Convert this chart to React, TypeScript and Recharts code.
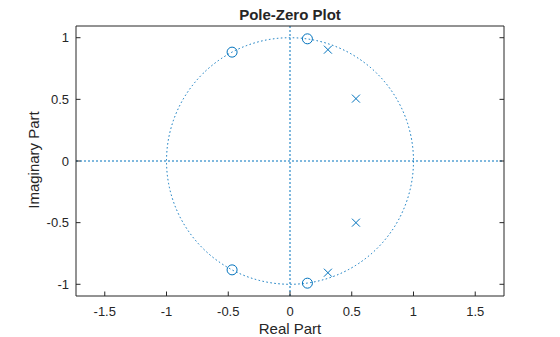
import { ScatterChart, Scatter, XAxis, YAxis, ReferenceLine, ReferenceArea } from 'recharts'

// zeros (o) and poles (x)
const zeroRe = [0.141, -0.469, -0.469, 0.141]
const zeroIm = [0.991, 0.883, -0.883, -0.991]
const poleRe = [0.307, 0.534, 0.534, 0.307]
const poleIm = [0.903, 0.506, -0.5, -0.906]

const xTicks = [-1.5, -1, -0.5, 0, 0.5, 1, 1.5]
const yTicks = [-1, -0.5, 0, 0.5, 1]
const xDomain = [-1.733, 1.733]
const yDomain = [-1.095, 1.095]

const zeros = zeroRe.map((re, i) => ({ re, im: zeroIm[i] }))
const poles = poleRe.map((re, i) => ({ re, im: poleIm[i] }))

const blue = '#0072BD'
const ink = '#262626'
const font = '"Liberation Sans", Arial, Helvetica, sans-serif'
const TICK = 4.5

const BottomTick = (p: any) => (
  <g>
    <line x1={p.x} x2={p.x} y1={p.y} y2={p.y - TICK} stroke={ink} />
    <text x={p.x} y={p.y + 20} textAnchor="middle" fontSize={13} fill={ink} fontFamily={font}>
      {p.payload.value}
    </text>
  </g>
)
const TopTick = (p: any) => <line x1={p.x} x2={p.x} y1={p.y} y2={p.y + TICK} stroke={ink} />
const LeftTick = (p: any) => (
  <g>
    <line x1={p.x} x2={p.x + TICK} y1={p.y} y2={p.y} stroke={ink} />
    <text x={p.x - 7} y={p.y + 4.5} textAnchor="end" fontSize={13} fill={ink} fontFamily={font}>
      {p.payload.value}
    </text>
  </g>
)
const RightTick = (p: any) => <line x1={p.x} x2={p.x - TICK} y1={p.y} y2={p.y} stroke={ink} />

const ZeroMark = (p: any) => <circle cx={p.cx} cy={p.cy} r={5} fill="none" stroke={blue} strokeWidth={1} />
const PoleMark = (p: any) => (
  <g stroke={blue} strokeWidth={1}>
    <line x1={p.cx - 4} y1={p.cy - 4} x2={p.cx + 4} y2={p.cy + 4} />
    <line x1={p.cx - 4} y1={p.cy + 4} x2={p.cx + 4} y2={p.cy - 4} />
  </g>
)

// unit circle inscribed in the [-1,1]x[-1,1] area
const UnitCircle = (p: any) => (
  <ellipse cx={p.x + p.width / 2} cy={p.y + p.height / 2} rx={p.width / 2} ry={p.height / 2}
           fill="none" stroke={blue} strokeWidth={1} strokeDasharray="1.5 2.5" />
)

export default function App() {
  return (
    <div style={{ position: 'absolute', left: 0, top: 0, width: 560, height: 337, background: '#fff' }}>
      <ScatterChart width={560} height={337} margin={{ top: 25, right: 55, bottom: 0, left: 0 }}>
        <XAxis xAxisId={0} type="number" dataKey="re" domain={xDomain} allowDataOverflow ticks={xTicks}
               height={41} tickSize={0} tickMargin={0} tickLine={false} tick={BottomTick}
               axisLine={{ stroke: ink }} interval={0} />
        <XAxis xAxisId="top" orientation="top" type="number" domain={xDomain} allowDataOverflow ticks={xTicks}
               height={1} tickSize={0} tickMargin={0} tickLine={false} tick={TopTick}
               axisLine={{ stroke: ink }} interval={0} />
        <YAxis yAxisId={0} type="number" dataKey="im" domain={yDomain} allowDataOverflow ticks={yTicks}
               width={76} tickSize={0} tickMargin={0} tickLine={false} tick={LeftTick}
               axisLine={{ stroke: ink }} interval={0} />
        <YAxis yAxisId="right" orientation="right" type="number" domain={yDomain} allowDataOverflow ticks={yTicks}
               width={1} tickSize={0} tickMargin={0} tickLine={false} tick={RightTick}
               axisLine={{ stroke: ink }} interval={0} />
        <ReferenceArea x1={-1} x2={1} y1={-1} y2={1} shape={UnitCircle} />
        <ReferenceLine y={0} stroke={blue} strokeDasharray="2 2" />
        <ReferenceLine x={0} stroke={blue} strokeDasharray="2 2" />
        <Scatter data={zeros} shape={ZeroMark} isAnimationActive={false} />
        <Scatter data={poles} shape={PoleMark} isAnimationActive={false} />
        <text x={290} y={20} textAnchor="middle" fontSize={15} fontWeight="bold" fill={ink} fontFamily={font}>
          Pole-Zero Plot
        </text>
        <text x={290} y={334} textAnchor="middle" fontSize={15} fill={ink} fontFamily={font}>
          Real Part
        </text>
        <text x={38.5} y={160} textAnchor="middle" fontSize={15} fill={ink} fontFamily={font}
              transform="rotate(-90 38.5 160)">
          Imaginary Part
        </text>
      </ScatterChart>
    </div>
  )
}
